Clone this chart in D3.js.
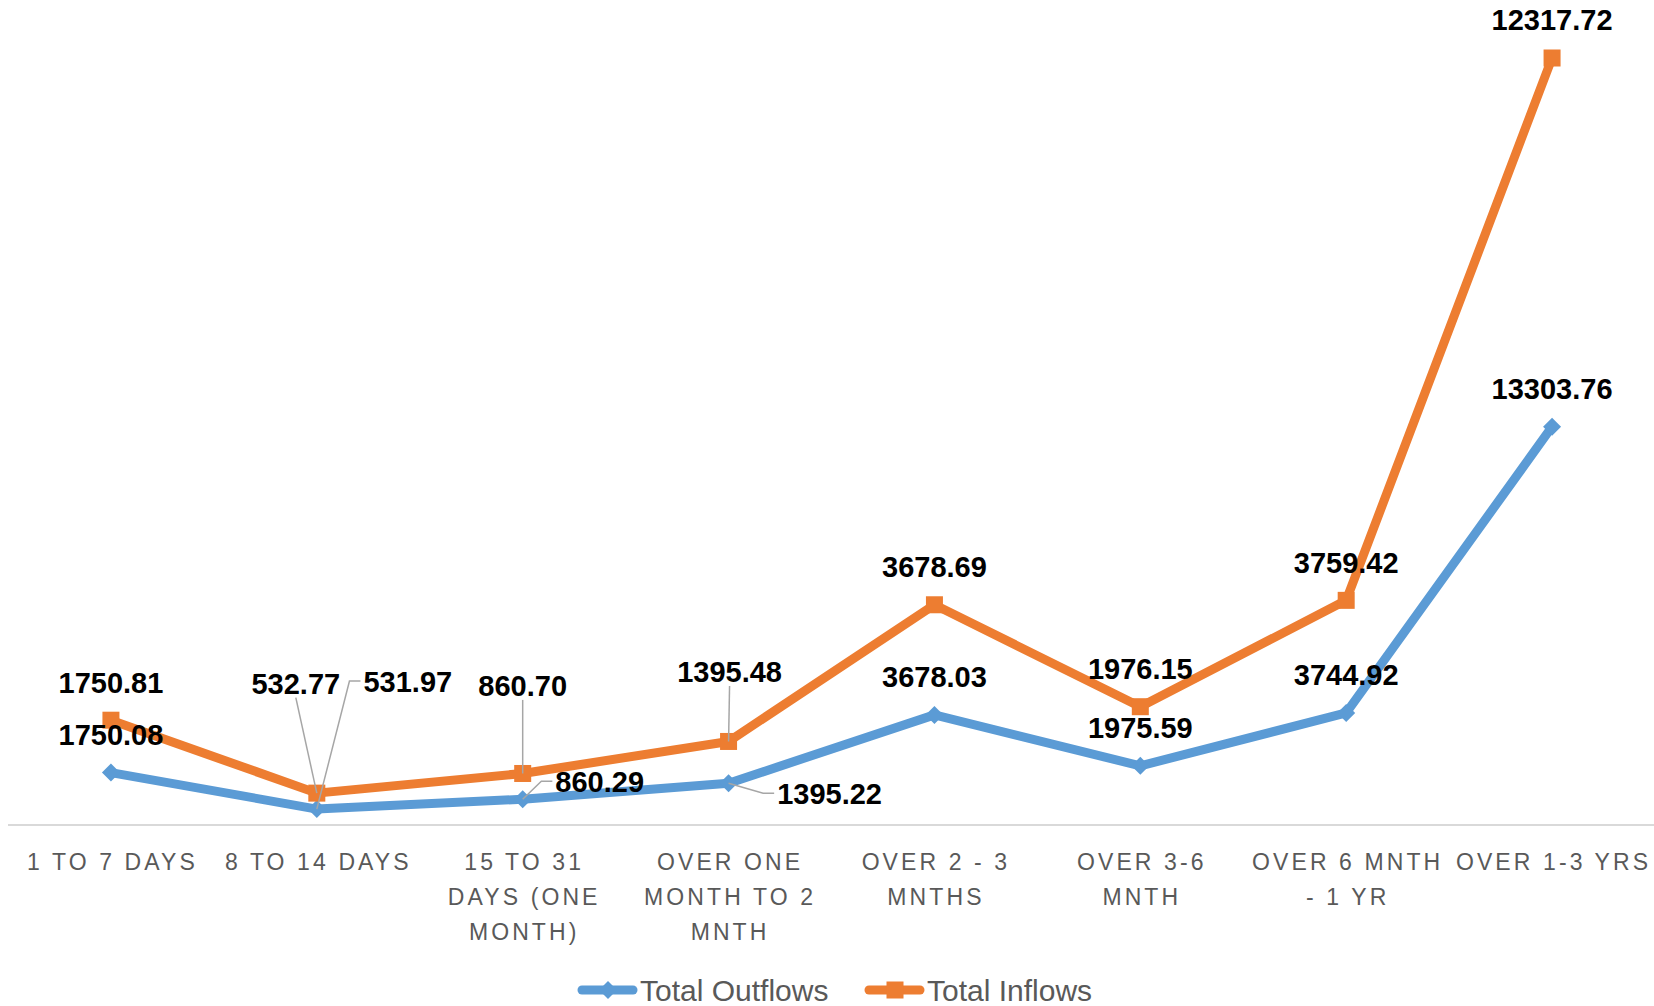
<!DOCTYPE html>
<html>
<head>
<meta charset="utf-8">
<script src="https://cdn.jsdelivr.net/npm/d3@7"></script>
<style>
  body { margin: 0; background: #fff; }
  svg { display: block; }
</style>
</head>
<body>
<svg id="chart"></svg>
<script>
// categories (line breaks as wrapped in the original)
const categories = [
  '1 TO 7 DAYS',
  '8 TO 14 DAYS',
  '15 TO 31\nDAYS (ONE\nMONTH)',
  'OVER ONE\nMONTH TO 2\nMNTH',
  'OVER 2 - 3\nMNTHS',
  'OVER 3-6\nMNTH',
  'OVER 6 MNTH\n- 1 YR',
  'OVER 1-3 YRS'
];
const outflows = [1750.08, 531.97, 860.29, 1395.22, 3678.03, 1975.59, 3744.92, 13303.76];
const inflows = [1750.81, 532.77, 860.70, 1395.48, 3678.69, 1976.15, 3759.42, 12317.72];
const seriesNames = ['Total Outflows', 'Total Inflows'];

// label placement tweaks (dx, dy from point, leader type), default is centered above
const labelMoves = {
  'Total Inflows': { 1: [-21, -110, 'bottom'], 2: [0, -88, 'bottom'], 3: [1, -70, 'bottom'] },
  'Total Outflows': { 1: [91, -128, 'left'], 2: [77, -18, 'left'], 3: [101, 10, 'left'] }
};

const width = 1654, height = 1006;
const colors = { 'Total Outflows': '#5b9bd5', 'Total Inflows': '#ed7d31' };

const svg = d3.select('#chart').attr('width', width).attr('height', height);

const rows = categories.map((c, i) => ({
  cat: c, 'Total Outflows': outflows[i], 'Total Inflows': inflows[i]
}));
const stacked = d3.stack().keys(seriesNames)(rows);

const x = d3.scalePoint().domain(categories).range([8, 1655]).padding(0.5);
const y = d3.scaleLinear()
  .domain([0, d3.max(stacked[stacked.length - 1], d => d[1])])
  .range([825, 58]);

// axis line
svg.append('line')
  .attr('x1', 8).attr('x2', width)
  .attr('y1', y(0)).attr('y2', y(0))
  .attr('stroke', '#d9d9d9').attr('stroke-width', 2);

// category labels
const tick = svg.append('g').selectAll('text')
  .data(categories)
  .enter().append('text')
  .attr('text-anchor', 'middle')
  .attr('font-family', '"Liberation Sans", Arial, sans-serif')
  .attr('font-size', 23)
  .attr('letter-spacing', 3.1)
  .attr('fill', '#595959');
tick.each(function (d) {
  const t = d3.select(this);
  d.split('\n').forEach((line, k) => {
    t.append('tspan')
      .attr('x', x(d) + 1.5)
      .attr('y', 870 + k * 34.8)
      .text(line);
  });
});

const diamond = s => `M0,${-s}L${s},0L0,${s}L${-s},0Z`;

const line = d3.line()
  .x(d => x(d.data.cat))
  .y(d => y(d[1]));

const lines = svg.append('g');
const marks = svg.append('g');
const leaders = svg.append('g');
const labels = svg.append('g');

stacked.forEach(layer => {
  const name = layer.key;
  lines.append('path')
    .datum(layer)
    .attr('fill', 'none')
    .attr('stroke', colors[name])
    .attr('stroke-width', 9)
    .attr('stroke-linejoin', 'round')
    .attr('d', line);

  if (name === 'Total Inflows') {
    marks.selectAll(null).data(layer).enter().append('rect')
      .attr('x', d => x(d.data.cat) - 8.5)
      .attr('y', d => y(d[1]) - 8.5)
      .attr('width', 17).attr('height', 17)
      .attr('fill', colors[name]);
  } else {
    marks.selectAll(null).data(layer).enter().append('path')
      .attr('transform', d => `translate(${x(d.data.cat)},${y(d[1])})`)
      .attr('d', diamond(9))
      .attr('fill', colors[name]);
  }

  layer.forEach((d, i) => {
    const px = x(d.data.cat), py = y(d[1]);
    const mv = (labelMoves[name] || {})[i];
    const dx = mv ? mv[0] : 0, dy = mv ? mv[1] : -38;
    const lbl = labels.append('text')
      .attr('x', px + dx).attr('y', py + dy)
      .attr('dy', '0.36em')
      .attr('text-anchor', 'middle')
      .attr('font-family', '"Liberation Sans", Arial, sans-serif')
      .attr('font-weight', 'bold')
      .attr('font-size', 29)
      .attr('fill', '#000')
      .text(d.data[name].toFixed(2));
    if (mv) {
      const b = lbl.node().getBBox();
      let path;
      if (mv[2] === 'bottom') {
        path = `M${px + dx},${b.y + b.height - 2}L${px},${py}`;
      } else {
        const sx = b.x - 3, sy = py + dy;
        path = `M${sx},${sy}L${sx - 11},${sy}L${px},${py}`;
      }
      leaders.append('path')
        .attr('d', path)
        .attr('fill', 'none')
        .attr('stroke', '#a6a6a6')
        .attr('stroke-width', 1.5);
    }
  });
});

// legend
const legend = svg.append('g');
const legendItems = [
  { name: 'Total Outflows', x0: 578 },
  { name: 'Total Inflows', x0: 865 }
];
legendItems.forEach(it => {
  const ly = 990;
  legend.append('line')
    .attr('x1', it.x0 + 4).attr('x2', it.x0 + 55)
    .attr('y1', ly).attr('y2', ly)
    .attr('stroke', colors[it.name]).attr('stroke-width', 9)
    .attr('stroke-linecap', 'round');
  if (it.name === 'Total Inflows') {
    legend.append('rect')
      .attr('x', it.x0 + 30 - 8.5).attr('y', ly - 8.5)
      .attr('width', 17).attr('height', 17)
      .attr('fill', colors[it.name]);
  } else {
    legend.append('path')
      .attr('transform', `translate(${it.x0 + 30},${ly})`)
      .attr('d', diamond(9))
      .attr('fill', colors[it.name]);
  }
  legend.append('text')
    .attr('x', it.x0 + 62).attr('y', ly)
    .attr('dy', '0.36em')
    .attr('font-family', '"Liberation Sans", Arial, sans-serif')
    .attr('font-size', 30)
    .attr('fill', '#595959')
    .text(it.name);
});
</script>
</body>
</html>
